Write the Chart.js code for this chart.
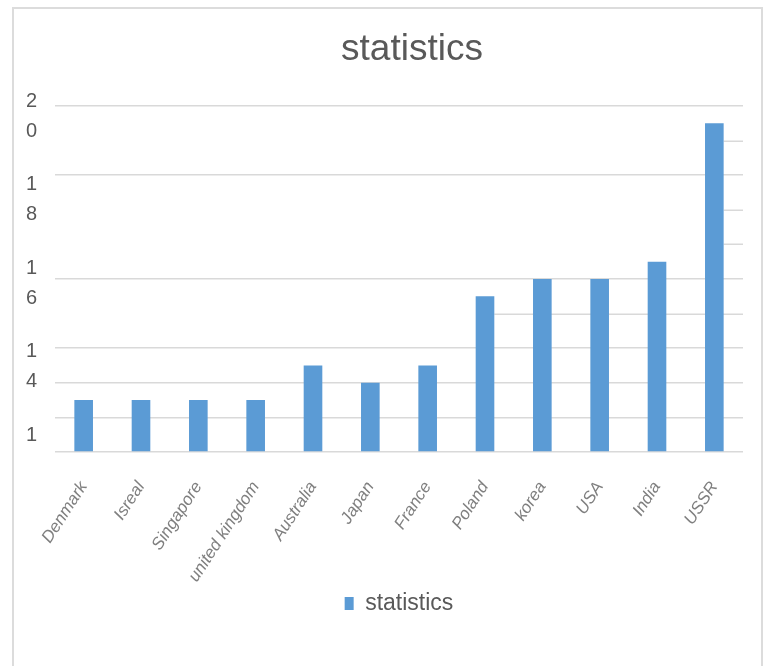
<!DOCTYPE html>
<html>
<head>
<meta charset="utf-8">
<title>statistics</title>
<script src="https://cdn.jsdelivr.net/npm/chart.js@4.4.1/dist/chart.umd.min.js"></script>
<style>
    html, body { margin: 0; padding: 0; background: #ffffff; overflow: hidden; }
    #frame {
        position: absolute; left: 12px; top: 7px; width: 751px; height: 720px;
        border: 2px solid #dcdcdc; box-sizing: border-box;
    }
    #chart { position: absolute; left: 0; top: 0; }
</style>
</head>
<body>
<div id="frame"></div>
<canvas id="chart" width="776" height="666"></canvas>
<script>
// Chart data
const categories = ['Denmark', 'Isreal', 'Singapore', 'united kingdom', 'Australia', 'Japan',
    'France', 'Poland', 'korea', 'USA', 'India', 'USSR'];
const values = [3, 3, 3, 3, 5, 4, 5, 9, 10, 10, 11, 19];
const seriesName = 'statistics';

// Value axis 0..20, gridline every 2
const yMin = 0;
const yMax = 20;
const yStep = 2;

// Tick labels as they appear (wrapped, one digit per line)
const labelValues = [20, 18, 16, 14, 12];
const labelText = [['2', '0'], ['1', '8'], ['1', '6'], ['1', '4'], ['1', '']];

// Gridlines that are only partly drawn in the picture: value -> category where they start
const partialGridValues = [18, 14, 12, 8];
const partialGridFrom = ['USSR', 'USSR', 'USSR', 'Poland'];

const gridColor = '#d9d9d9';
const textColor = '#595959';

// Draw the partial gridlines, starting at the right edge of a bar
const partialGridPlugin = {
    id: 'partialGrid',
    beforeDatasetsDraw(chart) {
        const ctx = chart.ctx;
        const yScale = chart.scales.y;
        const meta = chart.getDatasetMeta(0);
        const right = chart.chartArea.right;
        ctx.save();
        ctx.strokeStyle = gridColor;
        ctx.lineWidth = 1.5;
        partialGridValues.forEach((v, i) => {
            const bar = meta.data[categories.indexOf(partialGridFrom[i])];
            const y = Math.round(yScale.getPixelForValue(v)) + 0.25;
            ctx.beginPath();
            ctx.moveTo(bar.x + bar.width / 2, y);
            ctx.lineTo(right, y);
            ctx.stroke();
        });
        ctx.restore();
    }
};

const ctx = document.getElementById('chart').getContext('2d');
new Chart(ctx, {
    type: 'bar',
    data: {
        labels: categories,
        datasets: [{
            label: seriesName,
            data: values,
            backgroundColor: '#5b9bd5',
            borderWidth: 0,
            categoryPercentage: 1,
            barPercentage: 0.325
        }]
    },
    plugins: [partialGridPlugin],
    options: {
        responsive: false,
        animation: false,
        layout: { padding: { left: 48, right: 0, top: 0, bottom: 41 } },
        plugins: {
            title: {
                display: true,
                text: seriesName,
                color: textColor,
                font: { family: 'Liberation Sans', size: 37, weight: 'normal', lineHeight: 1.2 },
                padding: { top: 28, bottom: 33.6 }
            },
            legend: {
                position: 'bottom',
                fullSize: false,
                labels: {
                    color: textColor,
                    font: { family: 'Liberation Sans', size: 23 },
                    boxWidth: 9,
                    boxHeight: 13,
                    padding: 3
                }
            },
            tooltip: { enabled: false }
        },
        scales: {
            x: {
                grid: { display: false },
                border: { display: false },
                ticks: {
                    autoSkip: false,
                    minRotation: 57,
                    maxRotation: 57,
                    padding: 18,
                    color: '#7f7f7f',
                    font: { family: 'Liberation Sans', size: 17, style: 'italic' }
                },
                afterFit(scale) { scale.height = 137; }
            },
            y: {
                min: yMin,
                max: yMax,
                ticks: { stepSize: yStep, display: false },
                grid: {
                    drawTicks: false,
                    lineWidth: 1.5,
                    color: c => partialGridValues.includes(c.tick.value) ? 'rgba(0,0,0,0)' : gridColor
                },
                border: { display: false },
                afterFit(scale) { scale.width = 0; }
            },
            yLabels: {
                type: 'linear',
                position: 'left',
                min: 11.952,
                max: 20.24,
                grid: { display: false, drawTicks: false },
                border: { display: false },
                afterBuildTicks(scale) {
                    scale.ticks = labelValues.map(v => ({ value: v }));
                },
                ticks: {
                    mirror: true,
                    padding: -29,
                    color: textColor,
                    font: { family: 'Liberation Sans', size: 20, lineHeight: 1.5 },
                    callback: function(value, index) {
                        return labelText[index];
                    }
                },
                afterFit(scale) { scale.width = 7; }
            },
            yRight: {
                type: 'linear',
                position: 'right',
                grid: { display: false, drawTicks: false },
                border: { display: false },
                ticks: { display: false },
                afterFit(scale) { scale.width = 33; }
            }
        }
    }
});
</script>
</body>
</html>
